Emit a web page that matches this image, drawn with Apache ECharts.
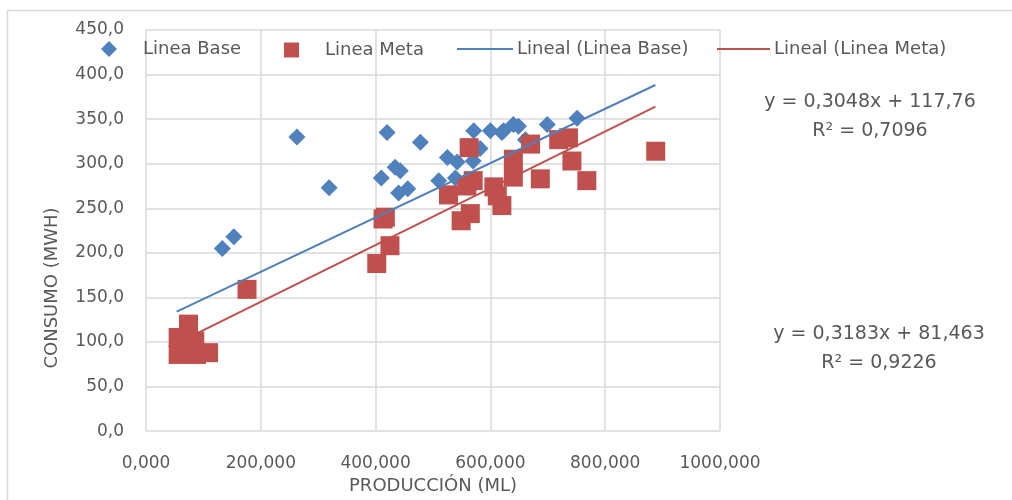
<!DOCTYPE html>
<html>
<head>
<meta charset="utf-8">
<title>Consumo vs Producción</title>
<script src="https://cdn.jsdelivr.net/npm/echarts@6/dist/echarts.min.js"></script>
<style>
html, body { margin: 0; padding: 0; background: #fff; }
#main { width: 1012px; height: 500px; }
</style>
</head>
<body>
<div id="main"></div>
<script>
// Linea Base (x: produccion, y: consumo)
var lineaBase = [
    [133, 205], [153, 218], [263, 330], [319, 273], [410, 284], [420, 335],
    [434, 296], [443, 292], [440, 267], [456, 272], [478, 324], [510, 281],
    [525, 307], [539, 284], [542, 302], [570, 303], [571, 337], [582, 317],
    [600, 337], [620, 335], [623, 337], [640, 344], [649, 342], [661, 327],
    [699, 344], [751, 351]
];
// Linea Meta
var lineaMeta = [
    [56, 105], [56, 86], [71, 90], [74, 120], [85, 101], [88, 86], [109, 88],
    [176, 159], [402, 188], [413, 238], [417, 240], [425, 208], [527, 265],
    [549, 236], [559, 275], [563, 318], [565, 244], [570, 281], [606, 274],
    [612, 264], [620, 253], [640, 305], [640, 285], [670, 322], [687, 283],
    [719, 327], [736, 329], [742, 303], [768, 281], [888, 314]
];
// tendencias lineales (extremos)
var tendBase = [[53.5, 134.1], [887.5, 388.3]];
var tendMeta = [[53.5, 98.5], [887.5, 364.0]];
var ecuaciones = ['y = 0,3048x + 117,76', 'R² = 0,7096', 'y = 0,3183x + 81,463', 'R² = 0,9226'];

(function(){
    var chart = echarts.init(document.getElementById("main"));
    var gris = '#595959';
    var fuente = 'DejaVu Sans';

    option = {
    animation: false,
    textStyle: { fontFamily: fuente, color: gris },
    grid: {
        left: 146,
        right: 292,
        top: 30,
        bottom: 66
    },
    legend: [
        {
            data: [{ name: 'Linea Base', icon: 'diamond' }],
            left: 96, top: 35,
            itemWidth: 16, itemHeight: 16,
            textStyle: { fontSize: 18, color: gris, fontFamily: fuente, padding: [0, 0, 0, 21] }
        },
        {
            data: [{ name: 'Linea Meta', icon: 'rect' }],
            left: 279, top: 36,
            itemWidth: 15, itemHeight: 15,
            textStyle: { fontSize: 18, color: gris, fontFamily: fuente, padding: [0, 0, 0, 21] }
        },
        {
            data: [{ name: 'Lineal (Linea Base)', icon: 'rect' }],
            left: 452, top: 35,
            itemWidth: 56, itemHeight: 2,
            textStyle: { fontSize: 18, color: gris, fontFamily: fuente, padding: [0, 0, 0, -1] }
        },
        {
            data: [{ name: 'Lineal (Linea Meta)', icon: 'rect' }],
            left: 712, top: 35,
            itemWidth: 53, itemHeight: 2,
            textStyle: { fontSize: 18, color: gris, fontFamily: fuente, padding: [0, 0, 0, -1] }
        }
    ],
    xAxis: {
        type: 'value',
        min: 0,
        max: 1000,
        interval: 200,
        name: 'PRODUCCIÓN (ML)',
        nameLocation: 'middle',
        nameGap: 44,
        nameTextStyle: { fontSize: 18, color: gris, fontFamily: fuente },
        axisLine: { show: false },
        axisTick: { show: false },
        axisLabel: {
            fontSize: 17, color: gris, fontFamily: fuente, margin: 24,
            formatter: function (v) { return v.toFixed(3).replace('.', ','); }
        },
        splitLine: { show: true, lineStyle: { color: '#d9d9d9', width: 1.5 } }
    },
    yAxis: {
        type: 'value',
        min: 0,
        max: 450,
        interval: 50,
        axisLine: { show: false },
        axisTick: { show: false },
        axisLabel: {
            fontSize: 17, color: gris, fontFamily: fuente, margin: 22,
            formatter: function (v) { return v.toFixed(1).replace('.', ','); }
        },
        splitLine: { show: true, lineStyle: { color: '#d9d9d9', width: 1.5 } }
    },
    graphic: [
        {
            type: 'rect',
            silent: true,
            shape: { x: 7.5, y: 10.5, width: 1100, height: 600 },
            style: { fill: 'none', stroke: '#d9d9d9', lineWidth: 1.5 }
        },
        {
            type: 'text',
            x: 52, y: 288,
            rotation: Math.PI / 2,
            style: { text: 'CONSUMO (MWH)', fill: gris, font: '18px ' + fuente, align: 'center', verticalAlign: 'middle' }
        },
        {
            type: 'text', x: 870, y: 102,
            style: { text: ecuaciones[0], fill: gris, font: '19px ' + fuente, align: 'center', verticalAlign: 'middle' }
        },
        {
            type: 'text', x: 870, y: 131,
            style: { text: ecuaciones[1], fill: gris, font: '19px ' + fuente, align: 'center', verticalAlign: 'middle' }
        },
        {
            type: 'text', x: 879, y: 334,
            style: { text: ecuaciones[2], fill: gris, font: '19px ' + fuente, align: 'center', verticalAlign: 'middle' }
        },
        {
            type: 'text', x: 879, y: 363,
            style: { text: ecuaciones[3], fill: gris, font: '19px ' + fuente, align: 'center', verticalAlign: 'middle' }
        }
    ],
    series: [
        {
            name: 'Linea Base',
            type: 'scatter',
            symbol: 'diamond',
            symbolSize: 17,
            itemStyle: { color: '#4f81bd', opacity: 1 },
            data: lineaBase
        },
        {
            name: 'Linea Meta',
            type: 'scatter',
            symbol: 'rect',
            symbolSize: 19,
            itemStyle: { color: '#c0504d', opacity: 1 },
            data: lineaMeta
        },
        {
            name: 'Lineal (Linea Base)',
            type: 'line',
            showSymbol: false,
            symbol: 'none',
            lineStyle: { color: '#4f81bd', width: 2 },
            itemStyle: { color: '#4f81bd' },
            data: tendBase
        },
        {
            name: 'Lineal (Linea Meta)',
            type: 'line',
            showSymbol: false,
            symbol: 'none',
            lineStyle: { color: '#c0504d', width: 2 },
            itemStyle: { color: '#c0504d' },
            data: tendMeta
        }
    ]
};

    chart.setOption(option);
})();
</script>
</body>
</html>
